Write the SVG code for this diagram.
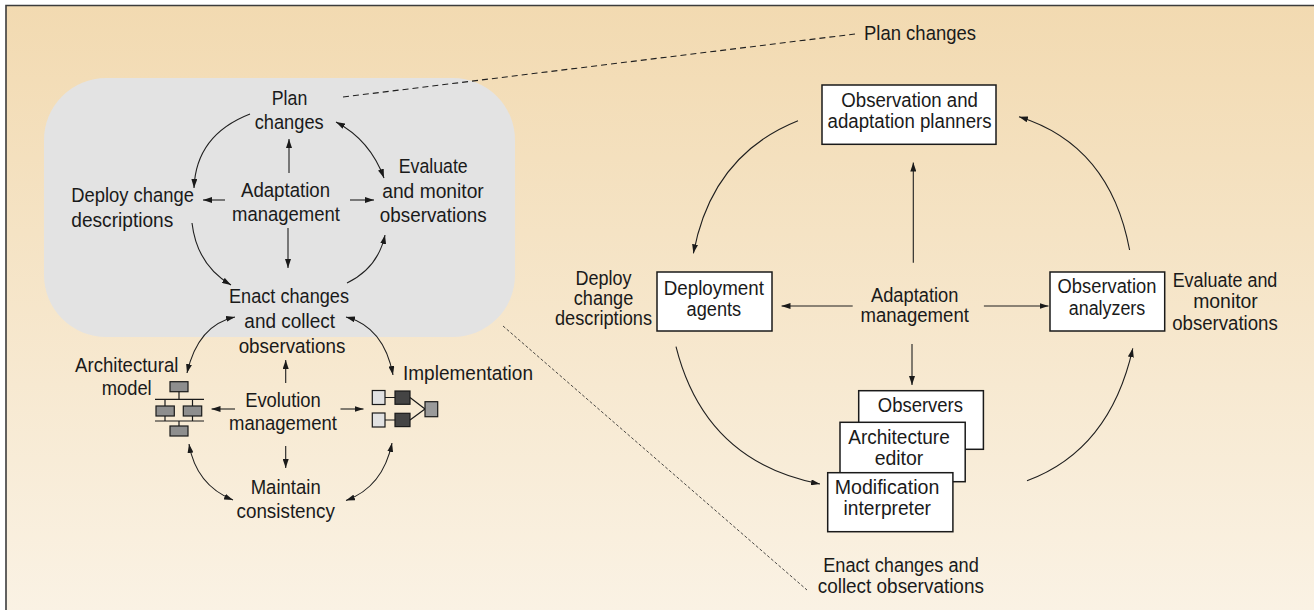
<svg xmlns="http://www.w3.org/2000/svg" width="1314" height="610" viewBox="0 0 1314 610">
<defs>
<linearGradient id="bg" x1="0" y1="0" x2="0" y2="1">
<stop offset="0" stop-color="#F2DAB1"/>
<stop offset="1" stop-color="#FAF2E4"/>
</linearGradient>
<marker id="ah" viewBox="0 0 9 6" markerWidth="9" markerHeight="6" refX="9" refY="3" orient="auto-start-reverse" markerUnits="userSpaceOnUse">
<path d="M0,0 L9,3 L0,6 Z" fill="#1a1a1a"/>
</marker>
</defs>
<style>
text{font-family:"Liberation Sans",Arial,sans-serif;fill:#1a1a1a;}
.l{font-size:20.5px;}
.r{font-size:19.5px;}
.c{text-anchor:middle;}
.cn{fill:none;stroke:#1f1f1f;stroke-width:1.1;}
.a{marker-end:url(#ah);}
.d{marker-start:url(#ah);marker-end:url(#ah);}
.box{fill:#fff;stroke:#1a1a1a;stroke-width:1.5;}
.ic{stroke:#1a1a1a;stroke-width:1.2;}
</style>
<rect x="0" y="0" width="1314" height="610" fill="#fff"/>
<rect x="6" y="5.5" width="1310" height="606" fill="url(#bg)"/>
<path d="M6,611 L6,5.5 L1315,5.5" fill="none" stroke="#3c3c3c" stroke-width="1.6"/>

<g id="adaptation-region">
<rect x="44" y="78" width="471" height="259" rx="62" ry="62" fill="#E3E3E3"/>
</g>

<g id="connectors">
<path d="M343,97 L855,34" fill="none" stroke="#1f1f1f" stroke-width="1.1" stroke-dasharray="6,4"/>
<path d="M503,326 L807,590" fill="none" stroke="#1f1f1f" stroke-width="0.8" stroke-dasharray="3,2"/>
<path class="cn a" d="M289,173 L289,139"/>
<path class="cn a" d="M288,228 L288,268"/>
<path class="cn a" d="M225,200 L203,200"/>
<path class="cn a" d="M350,200 L374,200"/>
<path class="cn a" d="M250,114 Q196,135 194,188"/>
<path class="cn d" d="M336,122 Q370,140 384,178"/>
<path class="cn a" d="M192,223 Q197,265 231,285"/>
<path class="cn a" d="M347,283 Q378,268 385,235"/>
<path class="cn d" d="M235,317 Q198,325 187,373"/>
<path class="cn d" d="M346,317 Q384,327 393,375"/>
<path class="cn a" d="M285.7,383 L285.7,360"/>
<path class="cn a" d="M235,409 L211.5,409"/>
<path class="cn a" d="M340.5,409 L363.5,409"/>
<path class="cn a" d="M285.7,446 L285.7,468"/>
<path class="cn d" d="M189,444 Q196,485 233,500"/>
<path class="cn d" d="M392,443 Q383,487 346,500.5"/>
<path class="cn a" d="M798,120.7 Q712,155 693.4,253.3"/>
<path class="cn a" d="M913.3,262.7 L913.3,162.5"/>
<path class="cn a" d="M1129.6,250 Q1110,145 1019,116.7"/>
<path class="cn a" d="M852.7,306 L781.5,306"/>
<path class="cn a" d="M983.9,306 L1048.5,306"/>
<path class="cn a" d="M676,346.7 Q705,462 820,484"/>
<path class="cn a" d="M912,344 L912,385"/>
<path class="cn a" d="M1027,480.7 Q1110,450 1132.8,348.3"/>
</g>

<g id="plan-changes">
<text class="l c" x="289.5" y="105" textLength="35.5" lengthAdjust="spacingAndGlyphs">Plan</text>
<text class="l c" x="289.2" y="128.5" textLength="69" lengthAdjust="spacingAndGlyphs">changes</text>
</g>
<g id="evaluate-monitor">
<text class="l c" x="433.2" y="172.5" textLength="69" lengthAdjust="spacingAndGlyphs">Evaluate</text>
<text class="l c" x="433" y="197.5" textLength="101.6" lengthAdjust="spacingAndGlyphs">and monitor</text>
<text class="l c" x="433.2" y="222" textLength="106.8" lengthAdjust="spacingAndGlyphs">observations</text>
</g>
<g id="deploy-change-descriptions">
<text class="l" x="71.3" y="202" textLength="122.6" lengthAdjust="spacingAndGlyphs">Deploy change</text>
<text class="l" x="71.3" y="227" textLength="102" lengthAdjust="spacingAndGlyphs">descriptions</text>
</g>
<g id="adaptation-management-left">
<text class="l c" x="285.5" y="197" textLength="89" lengthAdjust="spacingAndGlyphs">Adaptation</text>
<text class="l c" x="286" y="221" textLength="108" lengthAdjust="spacingAndGlyphs">management</text>
</g>
<g id="enact-changes">
<text class="l c" x="289" y="302.7" textLength="120" lengthAdjust="spacingAndGlyphs">Enact changes</text>
<text class="l c" x="289.7" y="327.7" textLength="90.7" lengthAdjust="spacingAndGlyphs">and collect</text>
<text class="l c" x="292" y="352.7" textLength="106.7" lengthAdjust="spacingAndGlyphs">observations</text>
</g>
<g id="architectural-model">
<text class="l c" x="126.7" y="371.7" textLength="103.3" lengthAdjust="spacingAndGlyphs">Architectural</text>
<text class="l c" x="126.7" y="395" textLength="50" lengthAdjust="spacingAndGlyphs">model</text>
<g fill="#8E8E8E" class="ic">
<rect x="170" y="381.7" width="18" height="10"/>
<rect x="156" y="406" width="18.3" height="10"/>
<rect x="183.3" y="406" width="18.4" height="10"/>
<rect x="170" y="426" width="18" height="10"/>
</g>
<path d="M179,391.7 V399.3 M155,399.3 H204 M165,399.3 V406 M192.5,399.3 V406 M155,421 H204 M165,416 V421 M192.5,416 V421 M179,421 V426" fill="none" stroke="#1a1a1a" stroke-width="1.2"/>
</g>
<g id="evolution-management">
<text class="l c" x="283" y="406.7" textLength="75.7" lengthAdjust="spacingAndGlyphs">Evolution</text>
<text class="l c" x="283" y="430" textLength="108" lengthAdjust="spacingAndGlyphs">management</text>
</g>
<g id="implementation">
<text class="l" x="403" y="380" textLength="130" lengthAdjust="spacingAndGlyphs">Implementation</text>
<path d="M385,397.5 H395 M385,420 H395 M410,397.5 L425,409 M410,420 L425,409" fill="none" stroke="#1a1a1a" stroke-width="1.2"/>
<rect class="ic" x="372.3" y="390.5" width="12.7" height="14" fill="#E2E2E2"/>
<rect class="ic" x="372.3" y="413" width="12.7" height="14" fill="#E2E2E2"/>
<rect class="ic" x="395" y="391" width="15" height="13.3" fill="#444"/>
<rect class="ic" x="395" y="413.3" width="15" height="13.3" fill="#444"/>
<rect class="ic" x="425" y="401.7" width="12.7" height="15" fill="#9A9A9A"/>
</g>
<g id="maintain-consistency">
<text class="l c" x="285.7" y="494" textLength="70" lengthAdjust="spacingAndGlyphs">Maintain</text>
<text class="l c" x="285.7" y="518.3" textLength="98.4" lengthAdjust="spacingAndGlyphs">consistency</text>
</g>

<g id="plan-changes-label">
<text class="l" x="864" y="40" textLength="112" lengthAdjust="spacingAndGlyphs">Plan changes</text>
</g>
<g id="observation-adaptation-planners">
<rect class="box" x="822" y="85" width="174" height="59.3"/>
<text class="r c" x="909.6" y="107.3" textLength="136.6" lengthAdjust="spacingAndGlyphs">Observation and</text>
<text class="r c" x="909.6" y="127.7" textLength="164" lengthAdjust="spacingAndGlyphs">adaptation planners</text>
</g>
<g id="deploy-label">
<text class="r c" x="603.5" y="285" textLength="56" lengthAdjust="spacingAndGlyphs">Deploy</text>
<text class="r c" x="603.5" y="305" textLength="59.5" lengthAdjust="spacingAndGlyphs">change</text>
<text class="r c" x="603.5" y="325" textLength="97" lengthAdjust="spacingAndGlyphs">descriptions</text>
</g>
<g id="deployment-agents">
<rect class="box" x="657" y="272" width="115" height="59"/>
<text class="r c" x="713.8" y="294.5" textLength="100.2" lengthAdjust="spacingAndGlyphs">Deployment</text>
<text class="r c" x="713.9" y="316" textLength="54.6" lengthAdjust="spacingAndGlyphs">agents</text>
</g>
<g id="adaptation-management-right">
<text class="r c" x="914.7" y="302" textLength="87.4" lengthAdjust="spacingAndGlyphs">Adaptation</text>
<text class="r c" x="914.7" y="321.5" textLength="108.4" lengthAdjust="spacingAndGlyphs">management</text>
</g>
<g id="observation-analyzers">
<rect class="box" x="1050" y="272" width="114.7" height="59"/>
<text class="r c" x="1107" y="293.3" textLength="98.8" lengthAdjust="spacingAndGlyphs">Observation</text>
<text class="r c" x="1107" y="315" textLength="76.5" lengthAdjust="spacingAndGlyphs">analyzers</text>
</g>
<g id="evaluate-label">
<text class="r c" x="1225" y="287.3" textLength="104.7" lengthAdjust="spacingAndGlyphs">Evaluate and</text>
<text class="r c" x="1225.5" y="308.3" textLength="64.7" lengthAdjust="spacingAndGlyphs">monitor</text>
<text class="r c" x="1225" y="329.5" textLength="105.6" lengthAdjust="spacingAndGlyphs">observations</text>
</g>
<g id="observers">
<rect class="box" x="858.7" y="390.7" width="124.7" height="58.6"/>
<text class="r c" x="920.4" y="412.3" textLength="85.2" lengthAdjust="spacingAndGlyphs">Observers</text>
</g>
<g id="architecture-editor">
<rect class="box" x="840" y="422.3" width="125.2" height="59.4"/>
<text class="r c" x="899" y="444.3" textLength="101.5" lengthAdjust="spacingAndGlyphs">Architecture</text>
<text class="r c" x="899" y="465" textLength="48.7" lengthAdjust="spacingAndGlyphs">editor</text>
</g>
<g id="modification-interpreter">
<rect class="box" x="827.7" y="472.7" width="125.2" height="59"/>
<text class="r c" x="887" y="494.3" textLength="104.7" lengthAdjust="spacingAndGlyphs">Modification</text>
<text class="r c" x="887.3" y="515" textLength="87.4" lengthAdjust="spacingAndGlyphs">interpreter</text>
</g>
<g id="enact-label">
<text class="r c" x="901" y="572.3" textLength="155.7" lengthAdjust="spacingAndGlyphs">Enact changes and</text>
<text class="r c" x="900.8" y="593.3" textLength="166.2" lengthAdjust="spacingAndGlyphs">collect observations</text>
</g>
</svg>
